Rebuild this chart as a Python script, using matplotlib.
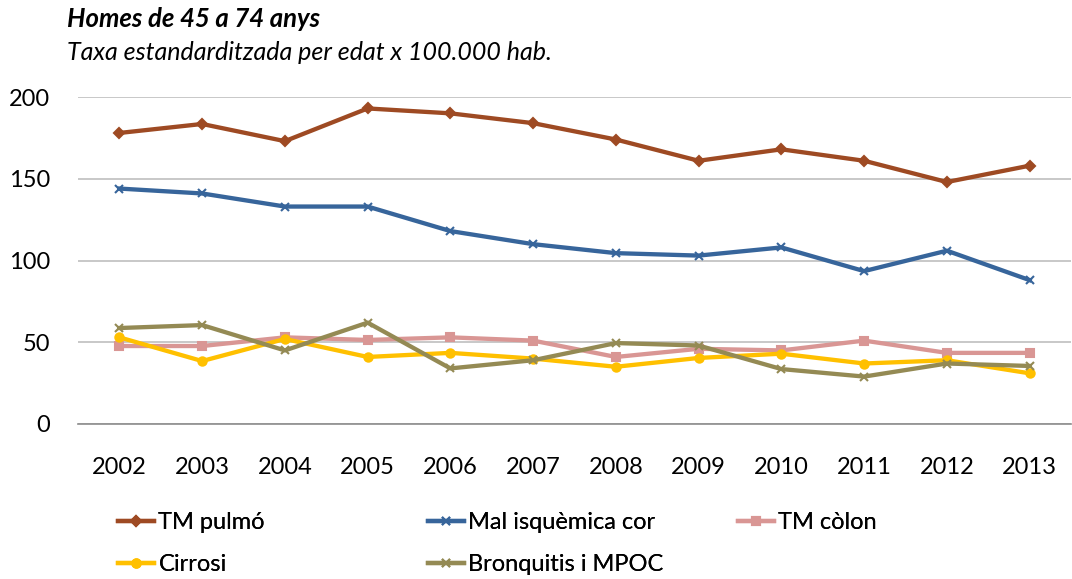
import matplotlib.pyplot as plt

anys = ['2002', '2003', '2004', '2005', '2006', '2007',
        '2008', '2009', '2010', '2011', '2012', '2013']

tm_pulmo = [178, 183.5, 173, 193, 190, 184, 174, 161, 168, 161, 148, 158]
mal_isquemica = [144, 141, 133, 133, 118, 110, 104.5, 103, 108, 93.5, 106, 88]
tm_colon = [47.7, 47.7, 53, 51.4, 53, 51, 41, 46, 45, 51, 43.5, 43.5]
cirrosi = [53, 38.5, 52, 41, 43.5, 40, 35, 40.4, 43, 37, 39, 31]
bronquitis = [58.7, 60.5, 45, 62, 34, 39, 49.5, 48, 33.6, 29, 37, 35.5]

series = [
    ('TM pulmó', tm_pulmo, '#9E4A23', 'D', 5),
    ('Mal isquèmica cor', mal_isquemica, '#37659B', 'x', 6),
    ('TM còlon', tm_colon, '#D99694', 's', 6),
    ('Cirrosi', cirrosi, '#FFC000', 'o', 6),
    ('Bronquitis i MPOC', bronquitis, '#948A54', 'x', 6),
]

plt.rcParams['font.family'] = ['Lato', 'DejaVu Sans']

fig = plt.figure(figsize=(10.72, 5.79), dpi=100)
ax = fig.add_axes([78 / 1072, 1 - 424 / 579, 993 / 1072, 327 / 579])

x = list(range(len(anys)))
linies = {}
for nom, vals, col, mk, ms in series:
    l, = ax.plot(x, vals, color=col, linewidth=3.1, marker=mk, markersize=ms,
                 markeredgewidth=1.5, markeredgecolor=col, label=nom)
    linies[nom] = l

ax.set_ylim(0, 200)
ax.set_xlim(-0.5, len(anys) - 0.5)
ax.set_yticks([0, 50, 100, 150, 200])
ax.set_xticks(x)
ax.set_xticklabels(anys)
ax.grid(axis='y', color='#BFBFBF', linewidth=1.2)
ax.set_axisbelow(True)
for s in ['top', 'right', 'left']:
    ax.spines[s].set_visible(False)
ax.spines['bottom'].set_color('#8C8C8C')
ax.spines['bottom'].set_linewidth(1.2)
ax.tick_params(axis='both', length=0, labelsize=17, colors='black')
ax.tick_params(axis='y', pad=20)
ax.tick_params(axis='x', pad=24)

fig.text(67 / 1072, 1 - 19 / 579, 'Homes de 45 a 74 anys', fontsize=18.5,
         fontweight='bold', fontstyle='italic', va='center')
fig.text(67 / 1072, 1 - 53 / 579, 'Taxa estandarditzada per edat x 100.000 hab.',
         fontsize=18, fontstyle='italic', va='center')

# llegenda en tres columnes, ordre per files com a l'original
columnes = [(['TM pulmó', 'Cirrosi'], 97),
            (['Mal isquèmica cor', 'Bronquitis i MPOC'], 407),
            (['TM còlon'], 717)]
for noms, xpx in columnes:
    leg = fig.legend([linies[n] for n in noms], noms, loc='upper left',
                     bbox_to_anchor=(xpx / 1072, 1 - 491 / 579),
                     frameon=False, fontsize=17, handlelength=1.5,
                     handletextpad=0.2, labelspacing=0.88, borderpad=0.4)
    fig.add_artist(leg)

fig.savefig('out.png', dpi=100)
